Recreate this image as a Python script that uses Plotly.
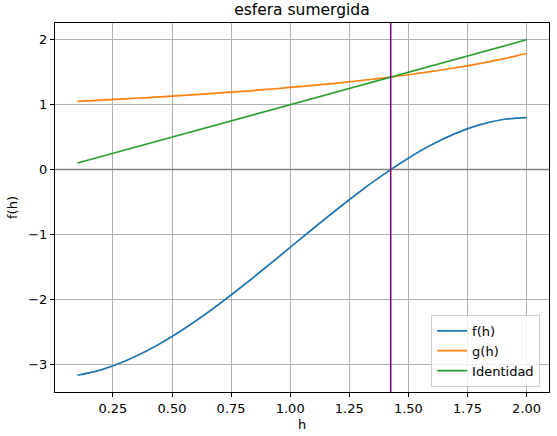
import plotly.graph_objects as go

# h sample points and curve values
h = [0.1, 0.2, 0.3, 0.4, 0.5, 0.6, 0.7, 0.8, 0.9, 1.0,
     1.1, 1.2, 1.3, 1.4, 1.5, 1.6, 1.7, 1.8, 1.9, 2.0]
f_vals = [-3.171, -3.088, -2.957, -2.784, -2.575, -2.336, -2.073, -1.792, -1.499, -1.2,
          -0.901, -0.608, -0.327, -0.064, 0.175, 0.384, 0.557, 0.688, 0.771, 0.8]
g_vals = [1.050, 1.069, 1.089, 1.109, 1.131, 1.155, 1.180, 1.206, 1.234, 1.265,
          1.298, 1.333, 1.372, 1.414, 1.461, 1.512, 1.569, 1.633, 1.706, 1.789]
ident = [0.1, 0.2, 0.3, 0.4, 0.5, 0.6, 0.7, 0.8, 0.9, 1.0,
         1.1, 1.2, 1.3, 1.4, 1.5, 1.6, 1.7, 1.8, 1.9, 2.0]
raiz = 1.4254

font = "DejaVu Sans"

fig = go.Figure()
fig.add_hline(y=0, line=dict(color="#808080", width=1.5))
fig.add_vline(x=raiz, line=dict(color="#800080", width=1.5))
fig.add_trace(go.Scatter(x=h, y=f_vals, mode="lines", name="f(h)",
                         line=dict(color="#1f77b4", width=1.7, shape="spline")))
fig.add_trace(go.Scatter(x=h, y=g_vals, mode="lines", name="g(h)",
                         line=dict(color="#ff7f0e", width=1.7, shape="spline")))
fig.add_trace(go.Scatter(x=h, y=ident, mode="lines", name="Identidad",
                         line=dict(color="#2ca02c", width=1.7)))

axis = dict(showline=True, linecolor="black", linewidth=1, mirror=True,
            showgrid=True, gridcolor="#b0b0b0", gridwidth=0.8,
            ticks="outside", ticklen=4, tickcolor="black", automargin=False,
            zeroline=False, tickfont=dict(family=font, size=13, color="black"))

fig.update_layout(
    width=557, height=436,
    margin=dict(l=55, r=8, t=23, b=44),
    paper_bgcolor="white", plot_bgcolor="white",
    font=dict(family=font, size=13, color="black"),
    title=dict(text="esfera sumergida", x=0.542, xanchor="center", y=0.977, yanchor="middle",
               font=dict(family=font, size=15.5, color="black")),
    xaxis=dict(axis, range=[0.005, 2.095], tick0=0.25, dtick=0.25, tickformat=".2f",
               title=dict(text="h", font=dict(family=font, size=13), standoff=5)),
    yaxis=dict(axis, range=[-3.4296, 2.2586], dtick=1,
               title=dict(text="f(h)", font=dict(family=font, size=13), standoff=7)),
    legend=dict(x=0.982, y=0.014, xanchor="right", yanchor="bottom",
                bordercolor="#cccccc", borderwidth=1, bgcolor="rgba(255,255,255,0.8)",
                font=dict(family=font, size=13), tracegroupgap=0, itemwidth=30),
    showlegend=True,
)

# page body has an 8px margin by default, drop it so the figure sits at 0,0
fig.write_html("out.html", config={"displayModeBar": False},
               post_script="document.body.style.margin='0';")
